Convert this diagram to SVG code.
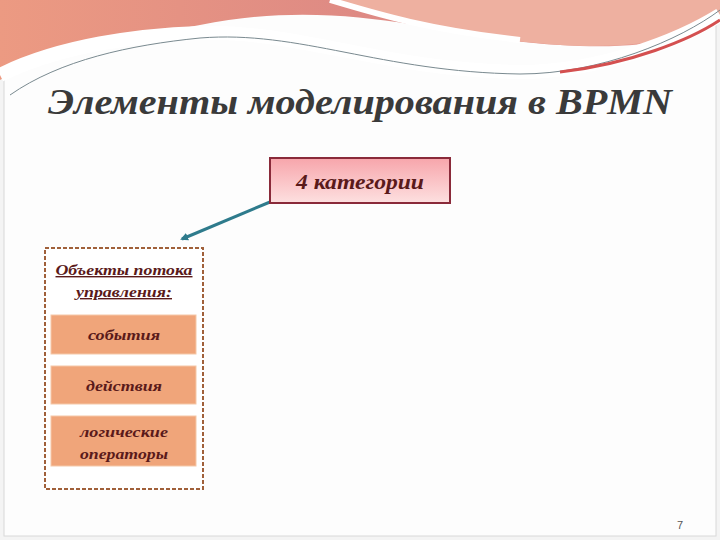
<svg xmlns="http://www.w3.org/2000/svg" width="720" height="540" viewBox="0 0 720 540">
<defs>
<linearGradient id="top" x1="0" y1="0" x2="1" y2="0"><stop offset="0" stop-color="#ec9a82"/><stop offset="0.5" stop-color="#de8a84"/><stop offset="1" stop-color="#e9a196"/></linearGradient>
<linearGradient id="cat" x1="0" y1="0" x2="0" y2="1"><stop offset="0" stop-color="#f7a5ab"/><stop offset="1" stop-color="#fde0e0"/></linearGradient>
<marker id="ah" markerWidth="8" markerHeight="8" refX="6" refY="4" orient="auto" markerUnits="userSpaceOnUse"><path d="M0,0 L8,4 L0,8 z" fill="#2e7b8c"/></marker>
<style>
.t{font-family:"Liberation Serif",serif;font-style:italic;font-weight:bold;fill:#5a1a1a;text-anchor:middle}
.item{fill:#f0a57a;stroke:#f5c8a8;stroke-width:1}
</style>
</defs>
<rect width="720" height="540" fill="#f4f4f4"/>
<rect x="4" y="4" width="712" height="532" fill="#fdfdfd" stroke="#d8d8d8"/>
<path d="M0,0 H720 V20 C690,40 640,50 560,45 C450,40 350,-5 200,25 C120,40 40,55 0,80 Z" fill="url(#top)"/>
<path d="M330,0 C400,20 480,40 560,45 C640,50 700,35 720,22 V0 Z" fill="#eeb0a0"/>
<path d="M330,0 C380,15 430,30 520,40" stroke="#fff" stroke-width="6" fill="none"/>
<path d="M0,75 C60,45 140,35 200,33 C300,30 380,70 520,72 C600,72 680,40 720,15" stroke="#fff" stroke-width="14" fill="none"/>
<path d="M10,95 C60,60 130,45 200,38 C300,30 380,72 520,74 C600,74 680,40 720,10" stroke="#7a8a90" stroke-width="1" fill="none"/>
<path d="M560,72 C630,64 690,40 720,20" stroke="#d45050" stroke-width="3" fill="none"/>
<text x="360" y="114" class="t" font-size="35" style="fill:#3a3a3a" textLength="624" lengthAdjust="spacingAndGlyphs">Элементы моделирования в BPMN</text>
<g id="connectors"><line x1="270" y1="202" x2="182" y2="239" stroke="#2e7b8c" stroke-width="3" marker-end="url(#ah)"/></g>
<g id="cat4"><rect x="270" y="158" width="180" height="45" fill="url(#cat)" stroke="#8a2a3a" stroke-width="2"/><text x="360" y="189" class="t" font-size="20" textLength="128" lengthAdjust="spacingAndGlyphs">4 категории</text></g>
<g id="group"><rect x="45" y="248" width="158" height="241" fill="#fff" stroke="#a0603a" stroke-width="2" stroke-dasharray="4,2"/>
<text x="124" y="275" class="t" font-size="14" text-decoration="underline" textLength="137" lengthAdjust="spacingAndGlyphs">Объекты потока</text>
<text x="124" y="297" class="t" font-size="14" text-decoration="underline" textLength="96" lengthAdjust="spacingAndGlyphs">управления:</text></g>
<g id="events"><rect x="51" y="315" width="145" height="39" class="item"/><text x="124" y="340" class="t" font-size="14" textLength="72" lengthAdjust="spacingAndGlyphs">события</text></g>
<g id="actions"><rect x="51" y="366" width="145" height="38" class="item"/><text x="124" y="391" class="t" font-size="14" textLength="76" lengthAdjust="spacingAndGlyphs">действия</text></g>
<g id="gateways"><rect x="51" y="416" width="145" height="50" class="item"/><text x="124" y="437" class="t" font-size="14" textLength="88" lengthAdjust="spacingAndGlyphs">логические</text><text x="124" y="459" class="t" font-size="14" textLength="88" lengthAdjust="spacingAndGlyphs">операторы</text></g>
<text x="680" y="529" font-family="Liberation Sans,sans-serif" font-size="11" fill="#555" text-anchor="middle">7</text>
</svg>
